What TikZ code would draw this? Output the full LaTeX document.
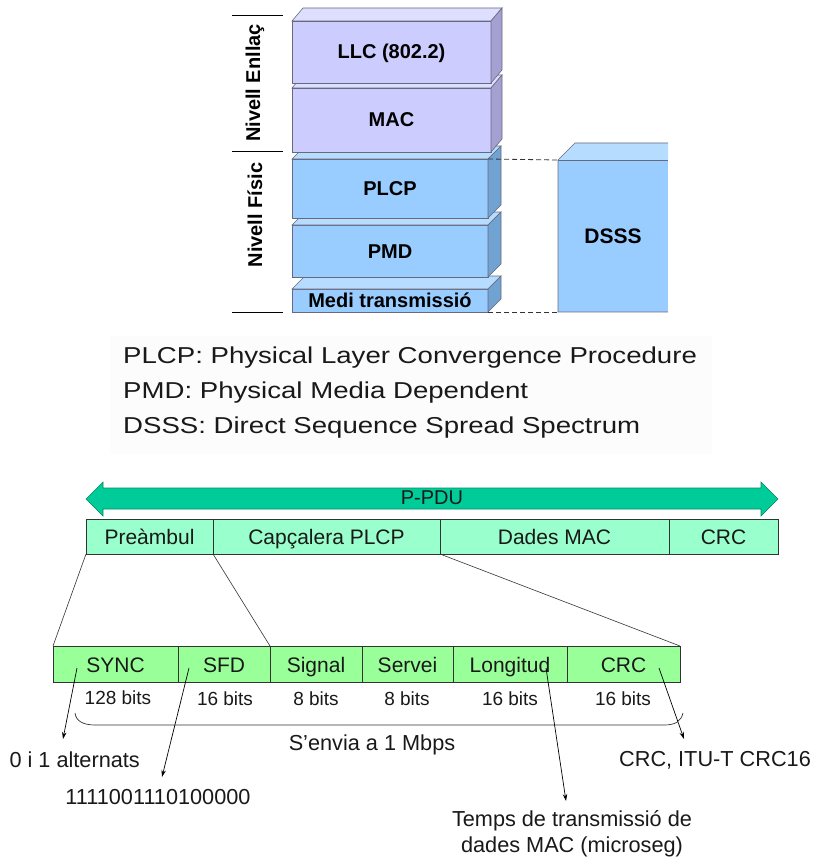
\documentclass[tikz,border=0pt]{standalone}
\usepackage{fontspec}
\setmainfont{Liberation Sans}
\usetikzlibrary{arrows.meta,calc}
\definecolor{lavF}{RGB}{204,204,255}
\definecolor{lavS}{RGB}{165,160,210}
\definecolor{lavT}{RGB}{222,222,255}
\definecolor{bluF}{RGB}{153,204,255}
\definecolor{bluS}{RGB}{112,162,210}
\definecolor{bluT}{RGB}{182,220,255}
\definecolor{edgec}{RGB}{105,105,125}
\definecolor{mint}{RGB}{153,255,204}
\definecolor{tealc}{RGB}{0,204,153}
\definecolor{tealD}{RGB}{0,140,100}
\definecolor{lgreen}{RGB}{153,255,153}
\definecolor{ink}{RGB}{25,25,25}
\definecolor{legbg}{RGB}{252,252,252}
\newcommand\boxfaces[5]{%
  \filldraw[face,fill=#5] (#1.north west) -- ++(#2,-#3) -- ($(#1.north east)+(#2,-#3)$) -- (#1.north east) -- cycle;
  \filldraw[face,fill=#4] (#1.north east) -- ++(#2,-#3) -- ($(#1.south east)+(#2,-#3)$) -- (#1.south east) -- cycle;}
\begin{document}
\begin{tikzpicture}[x=1pt,y=-1pt,
  face/.style={draw=edgec,line width=0.6pt},
  layer/.style={face,rectangle,outer sep=0pt,inner sep=0pt,text height=17pt,text depth=3pt,font=\fontsize{20}{24}\bfseries\selectfont},
  seg/.style={draw=black!80,line width=0.8pt,rectangle,outer sep=0pt,inner sep=0pt,text height=19pt,text depth=3pt,text=ink,font=\fontsize{21}{25}\selectfont},
  bits/.style={text=ink,inner sep=0pt,font=\fontsize{19}{22}\selectfont},
  lbl/.style={text=ink,inner sep=0pt,font=\fontsize{21.7}{26}\selectfont},
  leg/.style={text=ink,inner sep=0pt,anchor=west,font=\fontsize{23}{27}\selectfont},
  side/.style={inner sep=0pt,rotate=90,font=\fontsize{20}{24}\bfseries\selectfont},
  fan/.style={draw=black!80,line width=0.6pt},
  ptr/.style={draw=black,line width=0.7pt,-{Stealth[length=7pt,width=4.5pt]}},
  dashln/.style={draw=black!80,line width=0.8pt,dash pattern=on 5pt off 3pt}
]
\useasboundingbox (0,0) rectangle (814,861);

% ---------- protocol stack ----------
\node[layer,fill=bluF,minimum width=196pt,minimum height=23pt] (medi) at (390,300.5) {Medi transmissió};
\boxfaces{medi}{13}{13}{bluS}{bluT}
\node[layer,fill=bluF,minimum width=196pt,minimum height=52pt] (pmd) at (390,251) {PMD};
\boxfaces{pmd}{13}{13}{bluS}{bluT}
\node[layer,fill=bluF,minimum width=196pt,minimum height=59pt] (plcp) at (390,188.5) {PLCP};
\boxfaces{plcp}{13}{13}{bluS}{bluT}
\node[layer,fill=lavF,minimum width=199pt,minimum height=64pt] (mac) at (391.5,120) {MAC};
\boxfaces{mac}{11}{13}{lavS}{lavT}
\node[layer,fill=lavF,minimum width=199pt,minimum height=62pt] (llc) at (391.5,52) {LLC (802.2)};
\boxfaces{llc}{11}{13}{lavS}{lavT}

\node[side] (enl) at (255,83) {Nivell Enllaç};
\node[side] (fis) at (255,215) {Nivell Físic};
\draw[line width=0.8pt] (232,15) -- (283,15);
\draw[line width=0.8pt] (232,151) -- (283,151);
\draw[line width=0.8pt] (232,312) -- (283,312);

% DSSS block
\node[rectangle,fill=bluF,outer sep=0pt,inner sep=0pt,minimum width=110pt,minimum height=152pt,
      font=\fontsize{21}{25}\bfseries\selectfont] (dsss) at (613,236) {DSSS};
\fill[bluT] (dsss.north west) -- ++(17,-17) -- ($(dsss.north east)+(0,-17)$) -- (dsss.north east) -- cycle;
\draw[face] ($(dsss.north east)+(0,-17)$) -- ($(dsss.north west)+(17,-17)$) -- (dsss.north west) -- (dsss.south west) -- (dsss.south east);
\draw[face] (dsss.north west) -- (dsss.north east);
\draw[dashln] (plcp.north east) -- (dsss.north west);
\draw[dashln] (medi.south east) -- (dsss.south west);

% ---------- legend ----------
\fill[legbg] (110,336) rectangle (712,454);
\node[leg] (l1) at (123,358) {\scalebox{1.2}[1]{PLCP: Physical Layer Convergence Procedure}};
\node[leg] (l2) at (123,393) {\scalebox{1.2}[1]{PMD: Physical Media Dependent}};
\node[leg] (l3) at (123,428) {\scalebox{1.2}[1]{DSSS: Direct Sequence Spread Spectrum}};

% ---------- P-PDU ----------
\filldraw[fill=tealc,draw=tealD,line width=0.6pt]
  (86,499) -- (103,482) -- (103,488) -- (761,488) -- (761,482) -- (778,499)
  -- (761,516) -- (761,509) -- (103,509) -- (103,516) -- cycle;
\node[lbl,font=\fontsize{20}{24}\selectfont] (ppdu) at (432,498) {P-PDU};

\node[seg,fill=mint,minimum width=127pt,minimum height=35pt] (pre) at (149.5,536.5) {Preàmbul};
\node[seg,fill=mint,minimum width=227pt,minimum height=35pt] (cap) at (326.5,536.5) {Capçalera PLCP};
\node[seg,fill=mint,minimum width=229pt,minimum height=35pt] (dad) at (554.5,536.5) {Dades MAC};
\node[seg,fill=mint,minimum width=109pt,minimum height=35pt] (crca) at (723.5,536.5) {CRC};

\node[seg,fill=lgreen,minimum width=125pt,minimum height=36pt] (sync) at (115.5,664) {SYNC};
\node[seg,fill=lgreen,minimum width=92pt,minimum height=36pt] (sfd) at (224,664) {SFD};
\node[seg,fill=lgreen,minimum width=92pt,minimum height=36pt] (sig) at (316,664) {Signal};
\node[seg,fill=lgreen,minimum width=91pt,minimum height=36pt] (ser) at (407.5,664) {Servei};
\node[seg,fill=lgreen,minimum width=114pt,minimum height=36pt] (lon) at (510,664) {Longitud};
\node[seg,fill=lgreen,minimum width=113pt,minimum height=36pt] (crcb) at (623.5,664) {CRC};

\draw[fan] (pre.south west) -- (sync.north west);
\draw[fan] (pre.south east) -- (sfd.north east);
\draw[fan] (cap.south east) -- (crcb.north east);

\node[bits] (b1) at (118,698) {128 bits};
\node[bits] (b2) at (225,699) {16 bits};
\node[bits] (b3) at (316,699) {8 bits};
\node[bits] (b4) at (407,699) {8 bits};
\node[bits] (b5) at (510,699) {16 bits};
\node[bits] (b6) at (623,699) {16 bits};

\draw[fan,line width=0.7pt] (75,713) .. controls (76,721) and (83,725) .. (95,725) -- (664,725)
  .. controls (676,725) and (681,721) .. (683,713);
\node[lbl] (env) at (372,745) {S’envia a 1 Mbps};

% annotations
\node[lbl,anchor=east] (alt) at (140,760) {0 i 1 alternats};
\node[lbl] (seq) at (158,797) {1111001110100000};
\node[lbl] (itu) at (715,760) {CRC, ITU-T CRC16};
\node[lbl,align=center] (tmp) at (572,834) {Temps de transmissió de\\dades MAC (microseg)};

\coordinate (s1) at (77,668);
\coordinate (e1) at (63,739);
\coordinate (s2) at (189,668);
\coordinate (e2) at (162,777);
\coordinate (s3) at (546,668);
\coordinate (e3) at (566,801);
\coordinate (s4) at (659,668);
\coordinate (e4) at (684,739);
\draw[ptr] (s1) -- (e1);
\draw[ptr] (s2) -- (e2);
\draw[ptr] (s3) -- (e3);
\draw[ptr] (s4) -- (e4);
\end{tikzpicture}
\end{document}
